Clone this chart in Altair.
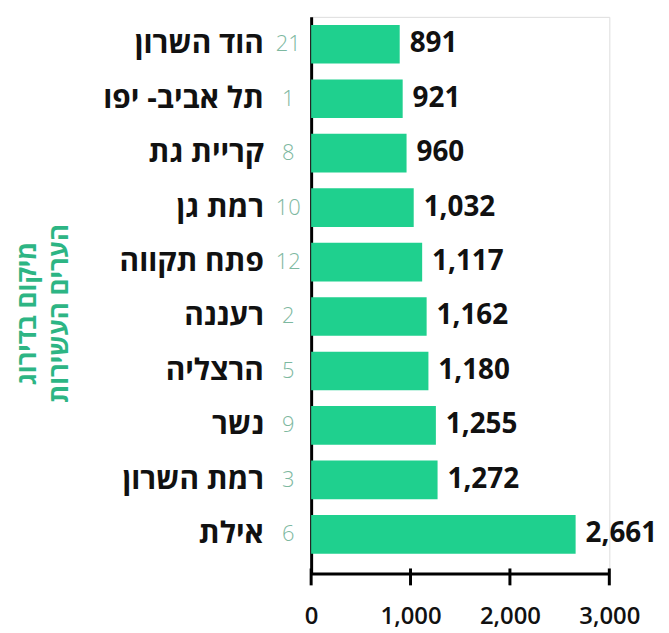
import altair as alt
import pandas as pd

cities = ["הוד השרון", "תל אביב- יפו", "קריית גת", "רמת גן", "פתח תקווה",
          "רעננה", "הרצליה", "נשר", "רמת השרון", "אילת"]
ranks = [21, 1, 8, 10, 12, 2, 5, 9, 3, 6]
values = [891, 921, 960, 1032, 1117, 1162, 1180, 1255, 1272, 2661]
tick_values = [0, 1000, 2000, 3000]

df = pd.DataFrame({"city": cities, "rank": [str(r) for r in ranks], "value": values})
ticks_df = pd.DataFrame({"t": tick_values})

FONT = "Open Sans, Noto Sans Hebrew, DejaVu Sans, sans-serif"
BAR = "#1fd08e"

x_scale = alt.Scale(domain=[0, 3000], nice=False)
y_scale = alt.Scale(paddingInner=0.29, paddingOuter=0.256, align=0.29)

y_enc = alt.Y(
    "city:N", sort=cities, scale=y_scale,
    axis=alt.Axis(
        title=["מיקום בדירוג", "הערים העשירות"],
        titleColor="#2db584", titleFont=FONT, titleFontSize=26, titleFontWeight="bold",
        titleLineHeight=32, titleAngle=-90, titleX=-298, titleY=298,
        titleAlign="center", titleBaseline="top",
        labelFont=FONT, labelFontSize=30, labelFontWeight="bold", labelColor="#111111",
        labelPadding=48, ticks=False, domainColor="#000000", domainWidth=3,
        labelLimit=300,
    ),
)

bars = alt.Chart(df).mark_bar(color=BAR).encode(
    x=alt.X("value:Q", scale=x_scale, axis=alt.Axis(
        values=tick_values, format=",.0f", title=None, ticks=False,
        labelFont=FONT, labelFontSize=24, labelFontWeight=600, labelColor="#111111",
        labelPadding=31, domainColor="#000000", domainWidth=3, grid=False,
        labelOverlap=False, labelFlush=False,
    )),
    y=y_enc,
)

value_labels = alt.Chart(df).mark_text(
    align="left", baseline="middle", dx=10, font=FONT, fontSize=28,
    fontWeight="bold", color="#111111",
).encode(
    x=alt.X("value:Q", scale=x_scale),
    y=alt.Y("city:N", sort=cities, scale=y_scale),
    text=alt.Text("value:Q", format=","),
)

rank_labels = alt.Chart(df).mark_text(
    align="center", baseline="middle", font=FONT, fontSize=22,
    fontWeight=300, color="#7db8a0",
).encode(
    x=alt.value(-23),
    y=alt.Y("city:N", sort=cities, scale=y_scale),
    text="rank:N",
)

tick_marks = alt.Chart(ticks_df).mark_rule(color="#000000", strokeWidth=3).encode(
    x=alt.X("t:Q", scale=x_scale),
    y=alt.value(555),
    y2=alt.value(572),
)

chart = alt.layer(bars, value_labels, rank_labels, tick_marks).properties(
    width=300,
    height=560,
    autosize=alt.AutoSizeParams(type="none"),
    padding={"left": 305, "top": 7, "right": 52, "bottom": 55},
).configure_view(stroke=None).configure(background="#ffffff")

chart.save("out.html", embed_options={"renderer": "svg", "actions": False})
